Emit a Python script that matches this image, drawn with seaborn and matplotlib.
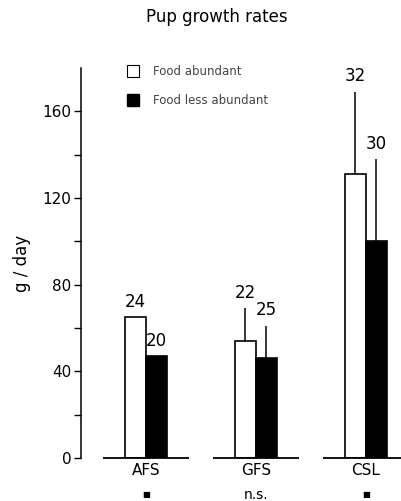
import pandas as pd
import seaborn as sns
import matplotlib.pyplot as plt
from matplotlib.patches import Patch
from matplotlib.transforms import blended_transform_factory

# Datos del gráfico
# -----------------------------------------------------------------------
especies = ["AFS", "GFS", "CSL"]
signif = ["■", "n.s.", "■"]
condiciones = ["Food abundant", "Food less abundant"]
abundante = [65, 54, 131]
menos_abundante = [47, 46, 100]
err_abundante = [0, 15, 38]
err_menos = [0, 15, 38]
n_abundante = [24, 22, 32]
n_menos = [20, 25, 30]

df = pd.DataFrame({
    "especie": especies * 2,
    "condicion": [condiciones[0]] * 3 + [condiciones[1]] * 3,
    "valor": abundante + menos_abundante,
})

sns.set_style("ticks")
plt.rcParams["font.family"] = ["DejaVu Sans"]
plt.rcParams["text.color"] = "black"
plt.rcParams["xtick.color"] = "black"
plt.rcParams["ytick.color"] = "black"
plt.rcParams["axes.labelcolor"] = "black"

fig = plt.figure(figsize=(4.01, 5.01), dpi=100)
ax = fig.add_axes([0.202, 0.086, 0.798, 0.778])

sns.barplot(data=df, x="especie", y="valor", hue="condicion",
            palette=["white", "black"], edgecolor="black", linewidth=1.2,
            width=0.38, dodge=True, legend=False, ax=ax)

# barras de error (solo hacia arriba) y tamaños de muestra
bars = ax.patches[:6]
errores = err_abundante + err_menos
ns = n_abundante + n_menos
for bar, e, n in zip(bars, errores, ns):
    cx = bar.get_x() + bar.get_width() / 2
    top = bar.get_height()
    if e > 0:
        ax.vlines(cx, top, top + e, color="black", lw=1.1)
    ax.text(cx, top + e + 3, str(n), ha="center", va="bottom", fontsize=12)

# línea base por grupo
for i in range(len(especies)):
    ax.hlines(0, i - 0.39, i + 0.39, color="black", lw=1.3, clip_on=False)

ax.set_xlim(-0.59, 2.32)
ax.set_ylim(0, 180)
ax.set_yticks(range(0, 161, 20))
ax.set_yticklabels([str(v) if v % 40 == 0 else "" for v in range(0, 161, 20)], fontsize=11)
ax.tick_params(axis="y", length=5, width=1, pad=2)
ax.tick_params(axis="x", length=0, labelsize=11, pad=4)
ax.set_xlabel("")
ax.set_ylabel("g / day", fontsize=12, labelpad=8)
sns.despine(ax=ax, bottom=True)
ax.spines["left"].set_linewidth(1.1)
ax.spines["left"].set_color("black")

trans = blended_transform_factory(ax.transData, ax.transAxes)
for i, s in enumerate(signif):
    ax.text(i, -0.095, s, ha="center", va="center", transform=trans,
            fontsize=6 if s == "■" else 10)

handles = [Patch(facecolor="white", edgecolor="black", lw=0.8),
           Patch(facecolor="black", edgecolor="black")]
ax.legend(handles, condiciones, loc="upper left", bbox_to_anchor=(0.11, 1.035),
          frameon=False, fontsize=8.5, handlelength=1.0, handleheight=1.2,
          handletextpad=1.2, labelspacing=1.3, labelcolor="#444444")

fig.suptitle("Pup growth rates", x=0.54, y=0.985, fontsize=12)

fig.savefig("out.png", dpi=100)
